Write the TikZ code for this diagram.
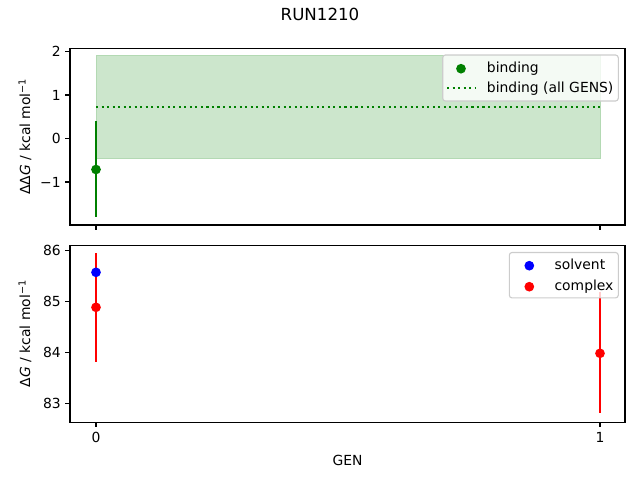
\documentclass[tikz,border=0pt]{standalone}
\usepackage{fontspec}
\setmainfont{DejaVu Sans}
\definecolor{mplgreen}{HTML}{008000}
\definecolor{mplfill}{HTML}{CCE6CC}
\definecolor{mpledge}{HTML}{B3D9B3}
\definecolor{mplred}{HTML}{FF0000}
\definecolor{mplblue}{HTML}{0000FF}
\definecolor{legedge}{HTML}{CCCCCC}
\newcommand{\supm}{{\fontsize{7}{8}\selectfont\raisebox{0.85ex}{−1}}}
\begin{document}
\begin{tikzpicture}[x=0.72pt,y=-0.72pt,font=\fontsize{10}{12}\selectfont,
  axframe/.style={draw=black,line width=0.8pt},
  tickmark/.style={draw=black,line width=0.8pt},
  ylab/.style={anchor=east,inner sep=0pt},
  xlab/.style={anchor=base,inner sep=0pt},
  ebar/.style={line width=1.5pt},
  dot/.style={circle,inner sep=0pt,minimum size=7.0pt},
  legbox/.style={draw=legedge,line width=0.8pt,fill=white,fill opacity=0.8,rounded corners=2pt},
  legtext/.style={anchor=base west,inner sep=0pt}]
\useasboundingbox (0,0) rectangle (640,480);
% ---------- top axes ----------
\fill[mplfill] (96,55.7) rectangle (600,158.3);
\draw[mpledge,line width=0.6pt] (96,55.7) rectangle (600,158.3);
\draw[mplgreen,line width=1.5pt,dash pattern=on 1.5pt off 2.475pt] (96,107) -- (600,107);
\coordinate (gtop) at (96,121);
\coordinate (gbot) at (96,216.7);
\draw[ebar,mplgreen] (gtop) -- (gbot);
\node[dot,fill=mplgreen] (gpt) at (96,169.5) {};
\draw[axframe] (70,48.5) rectangle (625,225);
\foreach \v/\t in {2/2,1/1,0/0,-1/−1}{
  \draw[tickmark] (70,138.5-43.45*\v) -- (65.1,138.5-43.45*\v);
  \node[ylab] (ty\v) at (61,138.5-43.45*\v) {\t};
}
\foreach \x in {96,600}{
  \draw[tickmark] (\x,225) -- (\x,229.9);
}
\node[rotate=90,inner sep=0pt] (ylabtop) at (25,136.8) {ΔΔ\textit{G} / kcal mol\supm};
% top legend
\draw[legbox] (442.7,55) rectangle (618.3,101);
\node[dot,fill=mplgreen] (lgb) at (461,68.7) {};
\node[legtext] (lgbt) at (486.7,72.6) {binding};
\coordinate (lda) at (447,87.7);
\coordinate (ldb) at (475,87.7);
\draw[mplgreen,line width=1.5pt,dash pattern=on 1.5pt off 2.475pt] (lda) -- (ldb);
\node[legtext] (lgat) at (486.7,92.4) {binding (all GENS)};
% ---------- bottom axes ----------
\coordinate (r0top) at (96,253.3);
\coordinate (r0bot) at (96,361.7);
\coordinate (r1top) at (600,291.7);
\coordinate (r1bot) at (600,413.3);
\draw[ebar,mplred] (r0top) -- (r0bot);
\draw[ebar,mplred] (r1top) -- (r1bot);
\node[dot,fill=mplblue] (sv0) at (96,272.3) {};
\node[dot,fill=mplred] (cx0) at (96,307.3) {};
\node[dot,fill=mplred] (cx1) at (600,353.3) {};
\draw[axframe] (70,245.3) rectangle (625,422.3);
\foreach \v in {83,84,85,86}{
  \draw[tickmark] (70,301.3-50.9*\v+50.9*85) -- (65.1,301.3-50.9*\v+50.9*85);
  \node[ylab] (by\v) at (61,301.3-50.9*\v+50.9*85) {\v};
}
\foreach \x/\t in {96/0,600/1}{
  \draw[tickmark] (\x,422.3) -- (\x,427.2);
  \node[xlab] (bx\t) at (\x,442) {\t};
}
\node[rotate=90,inner sep=0pt] (ylabbot) at (25,333.8) {Δ\textit{G} / kcal mol\supm};
% bottom legend
\draw[legbox] (509.3,252.5) rectangle (618.3,297.9);
\node[dot,fill=mplblue] (lsv) at (529.3,265.7) {};
\node[legtext] (lsvt) at (554.3,269.2) {solvent};
\node[dot,fill=mplred] (lcx) at (529.3,286.7) {};
\node[legtext] (lcxt) at (554.3,290.2) {complex};
% labels
\node[xlab] (gen) at (347.5,465.7) {GEN};
\node[anchor=base,inner sep=0pt,font=\fontsize{12}{14}\selectfont] (title) at (320,20.7) {RUN1210};
\end{tikzpicture}
\end{document}
